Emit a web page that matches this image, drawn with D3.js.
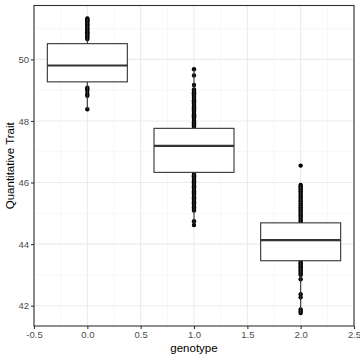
<!DOCTYPE html>
<html>
<head>
<meta charset="utf-8">
<script src="https://cdn.jsdelivr.net/npm/d3@7"></script>
<style>
  html, body { margin: 0; padding: 0; background: #fff; }
  svg { display: block; font-family: "Liberation Sans", Arial, Helvetica, sans-serif; }
</style>
</head>
<body>
<svg id="chart" width="360" height="360"></svg>
<script>
// ---- data ----
const genotypes = [0, 1, 2];
// box statistics per genotype: [lower whisker, Q1, median, Q3, upper whisker]
const boxLower  = [48.38, 44.62, 41.76];
const boxQ1     = [49.27, 46.33, 43.46];
const boxMedian = [49.80, 47.19, 44.13];
const boxQ3     = [50.51, 47.76, 44.69];
const boxUpper  = [51.33, 49.68, 45.92];
// individual observations visible outside the boxes
const points0 = [51.33, 51.30, 51.26, 51.22, 51.18, 51.14, 51.10, 51.05, 51.00, 50.96,
  50.92, 50.88, 50.84, 50.80, 50.75, 50.70, 50.66,
  49.08, 49.04, 48.98, 48.88, 48.82, 48.38];
const points1 = [49.68, 49.48, 49.17, 49.02, 48.98, 48.93, 48.90, 48.86, 48.82, 48.78,
  48.75, 48.71, 48.67, 48.63, 48.60, 48.56, 48.52, 48.48, 48.45, 48.41, 48.37, 48.33,
  48.30, 48.26, 48.22, 48.18, 48.15, 48.11, 48.07, 48.03, 48.00, 47.96, 47.92, 47.88,
  47.85, 47.81,
  46.28, 46.24, 46.20, 46.16, 46.12, 46.08, 46.04, 46.00, 45.96, 45.92, 45.88, 45.84,
  45.80, 45.76, 45.72, 45.68, 45.64, 45.60, 45.56, 45.52, 45.48, 45.44, 45.40, 45.36,
  45.32, 45.28, 45.24, 45.20, 45.15, 45.09, 44.74, 44.62];
const points2 = [46.55, 45.92, 45.88, 45.82, 45.78, 45.72, 45.66, 45.60, 45.55, 45.50,
  45.43, 45.38, 45.32, 45.26, 45.20, 45.15, 45.10, 45.04, 44.98, 44.93, 44.88, 44.82,
  44.76, 44.71,
  43.43, 43.38, 43.33, 43.28, 43.24, 43.19, 43.14, 43.09, 43.04, 43.00, 42.86, 42.37,
  42.27, 41.88, 41.82, 41.76];
const pointsByGenotype = [points0, points1, points2];

const xTicks = [-0.5, 0.0, 0.5, 1.0, 1.5, 2.0, 2.5];
const xMinor = [-0.25, 0.25, 0.75, 1.25, 1.75, 2.25];
const yTicks = [42, 44, 46, 48, 50];
const yMinor = [43, 45, 47, 49, 51];
const xTitle = "genotype";
const yTitle = "Quantitative Trait";

// ---- layout ----
const svg = d3.select("#chart");
const panel = { left: 34, right: 354, top: 5.5, bottom: 326 };
const x = d3.scaleLinear().domain([-0.5, 2.5]).range([panel.left, panel.right]);
const y = d3.scaleLinear().domain([41.34, 51.75]).range([panel.bottom, panel.top]);
const boxHalf = 0.375;

svg.append("rect").attr("x", 0).attr("y", 0).attr("width", 360).attr("height", 360).attr("fill", "#fff");

const g = svg.append("g");
// grid
g.selectAll(".vminor").data(xMinor).join("line")
  .attr("x1", d => x(d)).attr("x2", d => x(d)).attr("y1", panel.top).attr("y2", panel.bottom)
  .attr("stroke", "#f2f2f2").attr("stroke-width", 0.6);
g.selectAll(".hminor").data(yMinor).join("line")
  .attr("y1", d => y(d)).attr("y2", d => y(d)).attr("x1", panel.left).attr("x2", panel.right)
  .attr("stroke", "#f2f2f2").attr("stroke-width", 0.6);
g.selectAll(".vmajor").data(xTicks).join("line")
  .attr("x1", d => x(d)).attr("x2", d => x(d)).attr("y1", panel.top).attr("y2", panel.bottom)
  .attr("stroke", "#ebebeb").attr("stroke-width", 1.1);
g.selectAll(".hmajor").data(yTicks).join("line")
  .attr("y1", d => y(d)).attr("y2", d => y(d)).attr("x1", panel.left).attr("x2", panel.right)
  .attr("stroke", "#ebebeb").attr("stroke-width", 1.1);

// points
genotypes.forEach((gt, i) => {
  g.append("g").selectAll("circle").data(pointsByGenotype[i]).join("circle")
    .attr("cx", x(gt)).attr("cy", d => y(d)).attr("r", 2.2)
    .attr("fill", "#000");
});

// boxplots
genotypes.forEach((gt, i) => {
  const bg = g.append("g");
  bg.append("line").attr("x1", x(gt)).attr("x2", x(gt))
    .attr("y1", y(boxQ3[i])).attr("y2", y(boxUpper[i]))
    .attr("stroke", "#333").attr("stroke-width", 1.1);
  bg.append("line").attr("x1", x(gt)).attr("x2", x(gt))
    .attr("y1", y(boxQ1[i])).attr("y2", y(boxLower[i]))
    .attr("stroke", "#333").attr("stroke-width", 1.1);
  bg.append("rect")
    .attr("x", x(gt - boxHalf)).attr("width", x(gt + boxHalf) - x(gt - boxHalf))
    .attr("y", y(boxQ3[i])).attr("height", y(boxQ1[i]) - y(boxQ3[i]))
    .attr("fill", "#fff").attr("stroke", "#333").attr("stroke-width", 1.1);
  bg.append("line").attr("x1", x(gt - boxHalf)).attr("x2", x(gt + boxHalf))
    .attr("y1", y(boxMedian[i])).attr("y2", y(boxMedian[i]))
    .attr("stroke", "#333").attr("stroke-width", 2.1);
});

// panel border
svg.append("rect").attr("x", panel.left).attr("y", panel.top)
  .attr("width", panel.right - panel.left).attr("height", panel.bottom - panel.top)
  .attr("fill", "none").attr("stroke", "#333").attr("stroke-width", 1.1);

// axes
const xAxis = d3.axisBottom(x).tickValues(xTicks).tickFormat(d3.format(".1f")).tickSize(3).tickPadding(2);
const yAxis = d3.axisLeft(y).tickValues(yTicks).tickFormat(d3.format("d")).tickSize(3).tickPadding(2);
const gx = svg.append("g").attr("transform", `translate(0,${panel.bottom})`).call(xAxis);
const gy = svg.append("g").attr("transform", `translate(${panel.left},0)`).call(yAxis);
[gx, gy].forEach(a => {
  a.select(".domain").remove();
  a.selectAll(".tick line").attr("stroke", "#333").attr("stroke-width", 1.1);
  a.selectAll(".tick text").attr("fill", "#4d4d4d").style("font-size", "9.5px")
    .style("font-family", '"Liberation Sans", Arial, sans-serif');
});
gx.selectAll(".tick text").text(d => d3.format(".1f")(d).replace("−", "-"));

// titles
svg.append("text").attr("x", (panel.left + panel.right) / 2).attr("y", 352)
  .attr("text-anchor", "middle").attr("fill", "#000").style("font-size", "11.5px")
  .text(xTitle);
svg.append("text")
  .attr("transform", `translate(13.5,${(panel.top + panel.bottom) / 2}) rotate(-90)`)
  .attr("text-anchor", "middle").attr("fill", "#000").style("font-size", "11.5px")
  .text(yTitle);
</script>
</body>
</html>
